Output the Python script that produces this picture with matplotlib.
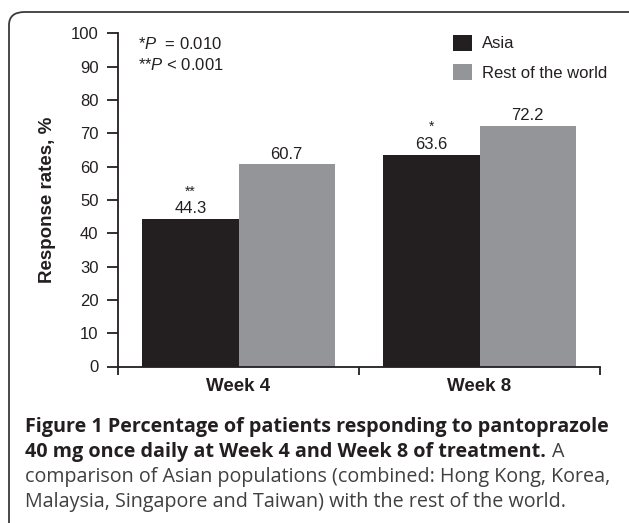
import matplotlib
matplotlib.use("Agg")
import matplotlib.pyplot as plt
from matplotlib.patches import FancyBboxPatch
import numpy as np

categories = ["Week 4", "Week 8"]
asia = [44.3, 63.6]
rest = [60.7, 72.2]
asia_sig = ["**", "*"]
series_names = ["Asia", "Rest of the world"]
yticks = list(range(0, 101, 10))

plt.rcParams["mathtext.fontset"] = "custom"
plt.rcParams["mathtext.it"] = "Liberation Sans:italic"
plt.rcParams["mathtext.rm"] = "Liberation Sans"

W, H = 629, 523
fig = plt.figure(figsize=(W / 100, H / 100), dpi=100)
ax = fig.add_axes([118 / W, 1 - 366.5 / H, (600 - 118) / W, (366.5 - 33.3) / H])

dark = "#231f20"
gray = "#939598"
tf = "Liberation Sans"

x = np.arange(len(categories))
w = 0.4
b1 = ax.bar(x - w / 2, asia, w, color=dark, label=series_names[0])
b2 = ax.bar(x + w / 2, rest, w, color=gray, label=series_names[1])

ax.set_xlim(-0.5, len(categories) - 0.5)
ax.set_ylim(0, 100)
ax.set_yticks(yticks)
ax.set_yticklabels([str(t) for t in yticks], fontfamily=tf, fontsize=12, color=dark)
ax.set_xticks(x)
ax.set_xticklabels(categories, fontfamily=tf, fontsize=13.5, fontweight="bold", color=dark)
ax.set_xticks(np.arange(-0.5, len(categories)), minor=True)
ax.tick_params(axis="x", which="major", length=0, pad=8)
ax.tick_params(axis="x", which="minor", length=6, width=1.3, color=dark, direction="out")
ax.tick_params(axis="y", length=8, width=1.3, color=dark, direction="out", pad=6)
for s in ["top", "right"]:
    ax.spines[s].set_visible(False)
for s in ["left", "bottom"]:
    ax.spines[s].set_color(dark)
    ax.spines[s].set_linewidth(1.3)

ax.set_ylabel("Response rates, %", fontfamily=tf, fontsize=13.5, fontweight="bold",
              color=dark)
ax.yaxis.set_label_coords(-0.129, 0.5)

for xi, v, sig in zip(x - w / 2, asia, asia_sig):
    ax.annotate(f"{v}", (xi, v), xytext=(0, 4), textcoords="offset points",
                ha="center", va="baseline", fontfamily=tf, fontsize=12, color=dark)
    ax.annotate(sig, (xi, v), xytext=(0, 17), textcoords="offset points",
                ha="center", va="baseline", fontfamily=tf, fontsize=10, color=dark)
for xi, v in zip(x + w / 2, rest):
    ax.annotate(f"{v}", (xi, v), xytext=(0, 4), textcoords="offset points",
                ha="center", va="baseline", fontfamily=tf, fontsize=12, color=dark)

# p-value notes
fig.text(138 / W, 1 - 49 / H, "*$\\mathit{P}$  = 0.010", fontfamily=tf, fontsize=12,
         color=dark, va="baseline", ha="left")
fig.text(138 / W, 1 - 70 / H, "**$\\mathit{P}$ < 0.001", fontfamily=tf, fontsize=12,
         color=dark, va="baseline", ha="left")

leg = fig.legend(handles=[b1, b2], labels=series_names, loc="upper left",
                 bbox_to_anchor=(446 / W, 1 - 28 / H), frameon=False,
                 prop={"family": tf, "size": 12}, handlelength=1.15, handleheight=1.1,
                 handletextpad=0.6, labelspacing=0.75, borderaxespad=0)
for t in leg.get_texts():
    t.set_color(dark)

# rounded frame
box = FancyBboxPatch((9 / W, -0.1), 1.2, 1 - 12 / H + 0.1,
                     boxstyle="round,pad=0,rounding_size=0.025",
                     transform=fig.transFigure, fill=False, edgecolor="#3a3a3a",
                     linewidth=1.3, clip_on=False)
fig.patches.append(box)

# caption
cf = "Open Sans"
cap_dark = "#231f20"
cap_text = "#404040"
cs = 14.2
fig.text(25 / W, 1 - 432 / H, "Figure 1 Percentage of patients responding to pantoprazole",
         fontfamily=cf, fontsize=cs, fontweight="bold", color=cap_dark, va="baseline")
t1 = fig.text(25 / W, 1 - 457 / H, "40 mg once daily at Week 4 and Week 8 of treatment.",
              fontfamily=cf, fontsize=cs, fontweight="bold", color=cap_dark, va="baseline")
fig.canvas.draw()
bb = t1.get_window_extent()
fig.text((bb.x1 + 6) / W, 1 - 457 / H, "A", fontfamily=cf, fontsize=cs,
         color=cap_text, va="baseline")
fig.text(25 / W, 1 - 482 / H,
         "comparison of Asian populations (combined: Hong Kong, Korea,",
         fontfamily=cf, fontsize=cs, color=cap_text, va="baseline")
fig.text(25 / W, 1 - 507 / H,
         "Malaysia, Singapore and Taiwan) with the rest of the world.",
         fontfamily=cf, fontsize=cs, color=cap_text, va="baseline")

fig.savefig("out.png", dpi=100)
